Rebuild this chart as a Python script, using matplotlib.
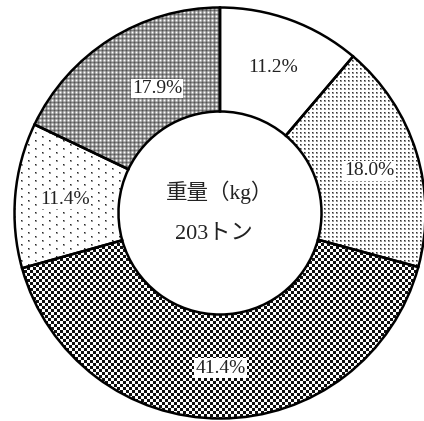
import numpy as np
import matplotlib
matplotlib.use("Agg")
import matplotlib.pyplot as plt

# Data
labels = ["11.2%", "18.0%", "41.4%", "11.4%", "17.9%"]
values = [11.2, 18.0, 41.4, 11.4, 17.9]
center_line1 = "重量（kg）"
center_line2 = "203トン"

# label placement tweaks (radius, angle offset in degrees)
label_r = [0.755, 0.755, 0.755, 0.755, 0.68]
label_da = [0.0, -1.5, 0.0, 0.0, -5.5]

W, H = 424, 421
fig = plt.figure(figsize=(W / 100, H / 100), dpi=100)
ax = fig.add_axes([0, 0, 1, 1])

R_PX = 205.5
CX, CY = 220.0, 213.0
x0, x1 = -CX / R_PX, (W - CX) / R_PX
y0, y1 = -(H - CY) / R_PX, CY / R_PX

wedges, _ = ax.pie(values, startangle=90, counterclock=False, radius=1,
                   wedgeprops=dict(width=0.506, edgecolor="black",
                                   linewidth=1.8, facecolor="none"))
for w in wedges:
    w.set_zorder(3)

ii, jj = np.mgrid[0:H, 0:W]

def tex_white():
    return np.full((H, W), 255.0)

def tex_dense():
    t = np.full((H, W), 255.0)
    a, b = ii % 4, jj % 4
    t[(a < 2) & (b < 2)] = 150
    t[(a == 0) & (b == 0)] = 50
    return t

def tex_checker():
    t = np.full((H, W), 255.0)
    blk = ((ii // 3) + (jj // 3)) % 2 == 0
    t[blk] = 15
    return t

def tex_sparse():
    t = np.full((H, W), 255.0)
    col = (jj // 7) % 2
    m1 = (col == 0) & (jj % 7 < 2) & (ii % 8 < 2)
    m2 = (col == 1) & (jj % 7 < 2) & ((ii - 4) % 8 < 2)
    t[m1 | m2] = 150
    m1c = (col == 0) & (jj % 7 == 0) & (ii % 8 == 0)
    m2c = (col == 1) & (jj % 7 == 0) & ((ii - 4) % 8 == 0)
    t[m1c | m2c] = 40
    return t

def tex_cross():
    tile = np.array([[255, 190, 130, 190],
                     [190, 160, 115, 160],
                     [130, 115, 85, 115],
                     [190, 160, 115, 160]], dtype=float)
    return tile[ii % 4, jj % 4]

textures = [tex_white(), tex_dense(), tex_checker(), tex_sparse(), tex_cross()]

for w, t in zip(wedges, textures):
    im = ax.imshow(t, cmap="gray", vmin=0, vmax=255, extent=(x0, x1, y0, y1),
                   origin="upper", interpolation="nearest", zorder=1)
    im.set_clip_path(w)

fam = ["Liberation Serif", "Noto Sans CJK JP"]

# Percentage labels
total = sum(values)
start = 90.0
for v, lab, r, da in zip(values, labels, label_r, label_da):
    ang = start - v / total * 360 / 2 + da
    start -= v / total * 360
    x = r * np.cos(np.radians(ang))
    y = r * np.sin(np.radians(ang))
    ax.text(x, y, lab, ha="center", va="center", fontsize=14, family=fam,
            color="#222222", zorder=5,
            bbox=dict(facecolor="white", edgecolor="none", pad=0.8))

ax.text(0.0, 0.10, center_line1, ha="center", va="center", fontsize=15.5,
        family=fam, color="#222222", zorder=5)
ax.text(-0.03, -0.10, center_line2, ha="center", va="center", fontsize=16,
        family=fam, color="#222222", zorder=5)

ax.set_xlim(x0, x1)
ax.set_ylim(y0, y1)
ax.set_aspect("equal")
ax.axis("off")
fig.savefig("out.png", dpi=100, facecolor="white")
